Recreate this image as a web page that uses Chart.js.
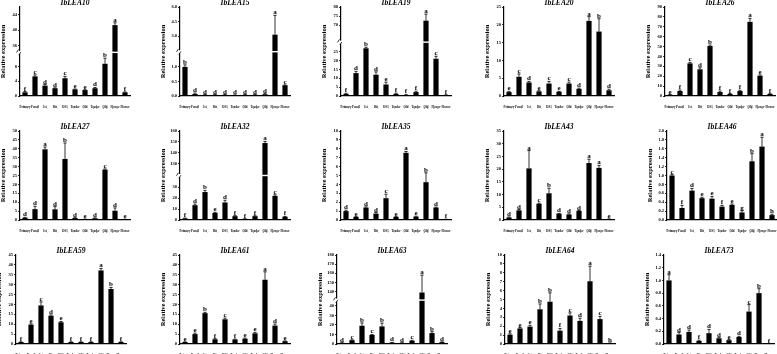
<!DOCTYPE html>
<html><head><meta charset="utf-8">
<script src="https://cdn.jsdelivr.net/npm/chart.js@4/dist/chart.umd.min.js"></script>
<style>
body{margin:0;background:#fff;width:777px;height:354px;overflow:hidden;position:relative}
canvas{position:absolute}
</style></head><body>
<script>
// ---------- data ----------
const categories = [["Primary","root"],["Pencil","root"],["Ist","root"],["Dit","root"],["DS1","root"],["Tender","stem"],["Old","stem"],["Tender","leaf"],["Old","leaf"],["Flower","bud"],"Flower"];

const LEA10 = [1.0, 5.3, 2.8, 2.1, 4.8, 1.8, 1.6, 2.1, 8.7, 41.3, 1.0];
const err10 = [0.2, 0.4, 0.3, 0.1, 0.5, 0.1, 0.1, 0.2, 1.5, 0.6, 0.1];
const sig10 = ["f","c","d","d","c","e","e","d","b","a","f"];
const ticks10 = [0,2,4,6,8,10,36,38,40,42,44,46];

const LEA15 = [1.0, 0.07, 0.04, 0.04, 0.04, 0.03, 0.04, 0.04, 0.06, 3.14, 0.37];
const err15 = [0.07, 0.03, 0.01, 0.01, 0.01, 0.01, 0.01, 0.01, 0.02, 2.0, 0.01];
const sig15 = ["b","d","d","d","d","d","d","d","d","a","c"];
const ticks15 = [0,0.5,1.0,3.0,4.5,6.0];

const LEA19 = [1.2, 12.9, 26.9, 12.0, 6.5, 1.2, 0.6, 2.2, 72.5, 21.0, 0.5];
const err19 = [0.3, 1.0, 0.6, 1.6, 1.3, 0.4, 0.3, 0.5, 3.6, 1.4, 0.2];
const sig19 = ["f","d","b","d","e","f","f","f","a","c","f"];
const ticks19 = [0,5,10,15,20,25,70,75,80];

const LEA20 = [1.1, 5.4, 3.8, 1.3, 3.5, 1.2, 3.5, 2.0, 21.1, 18.1, 1.6];
const err20 = [0.2, 0.8, 0.3, 0.2, 0.6, 0.1, 0.4, 0.2, 1.2, 3.6, 0.3];
const sig20 = ["e","c","d","e","c","e","c","d","a","b","d"];
const ticks20 = [0,5,10,15,20,25];

const LEA26 = [1.2, 5.0, 33.0, 27.0, 50.5, 4.0, 2.0, 5.0, 75.0, 20.5, 2.0];
const err26 = [0.3, 1.0, 1.0, 1.5, 1.0, 1.0, 0.5, 0.8, 3.5, 0.8, 0.4];
const sig26 = ["e","f","c","d","b","f","f","f","a","e","f"];
const ticks26 = [0,10,20,30,40,50,60,70,80,90];

const LEA27 = [1.3, 6.1, 39.7, 6.0, 34.3, 1.1, 0.5, 1.0, 28.3, 5.2, 0.4];
const err27 = [0.2, 1.6, 1.3, 1.5, 9.0, 0.2, 0.1, 0.2, 0.4, 1.6, 0.1];
const sig27 = ["d","d","a","d","b","d","e","d","c","d","e"];
const ticks27 = [0,5,10,15,20,25,30,35,40,45,50];

const LEA32 = [1.5, 13.5, 25.5, 6.5, 16.0, 3.5, 1.0, 3.5, 149.0, 22.0, 3.0];
const err32 = [0.3, 1.0, 1.5, 0.5, 2.0, 0.5, 0.2, 0.4, 1.5, 1.0, 0.3];
const sig32 = ["f","d","b","e","d","f","f","f","a","c","f"];
const ticks32 = [0,10,20,30,130,140,150,160];

const LEA35 = [1.0, 0.35, 1.4, 0.72, 2.45, 0.35, 7.55, 0.38, 4.25, 1.4, 0.08];
const err35 = [0.1, 0.03, 0.08, 0.12, 0.45, 0.03, 0.15, 0.05, 1.05, 0.05, 0.01];
const sig35 = ["d","e","d","d","c","e","a","e","b","d","f"];
const ticks35 = [0,1,2,3,4,5,6,7,8,9,10];

const LEA43 = [1.0, 3.8, 20.3, 6.4, 10.5, 2.5, 2.2, 3.6, 22.4, 20.5, 0.4];
const err43 = [0.2, 0.3, 7.0, 0.2, 2.0, 0.1, 0.2, 0.1, 1.5, 1.0, 0.05];
const sig43 = ["d","d","a","c","b","d","d","d","a","a","e"];
const ticks43 = [0,5,10,15,20,25,30,35];

const LEA46 = [1.0, 0.27, 0.66, 0.49, 0.48, 0.30, 0.34, 0.17, 1.32, 1.65, 0.11];
const err46 = [0.02, 0.06, 0.05, 0.02, 0.05, 0.03, 0.02, 0.04, 0.17, 0.21, 0.02];
const sig46 = ["c","f","d","e","e","f","e","g","b","a","h"];
const ticks46 = [0,0.2,0.4,0.6,0.8,1.0,1.2,1.4,1.6,1.8,2.0];

const LEA59 = [1.0, 9.8, 19.5, 14.3, 11.0, 1.0, 1.0, 1.0, 37.2, 27.8, 1.0];
const err59 = [0.1, 0.4, 1.8, 0.4, 0.4, 0.1, 0.1, 0.1, 1.0, 0.8, 0.1];
const sig59 = ["f","e","c","d","e","f","f","f","a","b","f"];
const ticks59 = [0,5,10,15,20,25,30,35,40,45];

const LEA61 = [1.0, 5.0, 15.6, 2.4, 12.5, 2.3, 2.7, 5.4, 32.5, 9.3, 1.4];
const err61 = [0.1, 0.5, 0.4, 0.3, 0.6, 0.2, 0.3, 0.5, 4.0, 0.8, 0.2];
const sig61 = ["e","e","b","f","c","f","e","e","a","d","e"];
const ticks61 = [0,5,10,15,20,25,30,35,40,45];

const LEA63 = [1.2, 4.0, 19.2, 9.5, 18.5, 1.5, 1.2, 3.5, 139.0, 11.5, 2.0];
const err63 = [0.2, 0.4, 3.0, 0.5, 3.5, 0.2, 0.2, 0.4, 19.0, 1.5, 0.3];
const sig63 = ["d","c","b","c","b","d","d","c","a","b","d"];
const ticks63 = [0,10,20,30,40,140,150,160,170,180];

const LEA64 = [1.05, 1.75, 1.95, 3.9, 4.75, 1.5, 3.2, 2.6, 7.05, 2.8, 0.1];
const err64 = [0.1, 0.1, 0.15, 0.6, 1.0, 0.25, 0.3, 0.3, 1.7, 0.3, 0.02];
const sig64 = ["e","e","e","b","b","f","c","d","a","c","h"];
const ticks64 = [0,1,2,3,4,5,6,7,8,9,10];

const LEA73 = [1.0, 0.15, 0.19, 0.05, 0.17, 0.09, 0.06, 0.11, 0.51, 0.80, 0.005];
const err73 = [0.09, 0.03, 0.03, 0.01, 0.06, 0.01, 0.01, 0.01, 0.11, 0.07, 0.002];
const sig73 = ["a","d","d","f","d","d","e","d","c","b","f"];
const ticks73 = [0,0.2,0.4,0.6,0.8,1.0,1.2,1.4];

// ---------- panels (data refs + axis config) ----------
const panels = [
 {name:"IbLEA10", v:LEA10, e:err10, s:sig10, t:ticks10, dec:0, seg:[{min:0,max:11,from:0,to:0.458},{min:35,max:46,from:0.523,to:1}]},
 {name:"IbLEA15", v:LEA15, e:err15, s:sig15, t:ticks15, dec:1, seg:[{min:0,max:1.4,from:0,to:0.458},{min:1.75,max:6,from:0.538,to:1}]},
 {name:"IbLEA19", v:LEA19, e:err19, s:sig19, t:ticks19, dec:0, seg:[{min:0,max:29,from:0,to:0.578},{min:62,max:80,from:0.632,to:1}]},
 {name:"IbLEA20", v:LEA20, e:err20, s:sig20, t:ticks20, dec:0},
 {name:"IbLEA26", v:LEA26, e:err26, s:sig26, t:ticks26, dec:0},
 {name:"IbLEA27", v:LEA27, e:err27, s:sig27, t:ticks27, dec:0},
 {name:"IbLEA32", v:LEA32, e:err32, s:sig32, t:ticks32, dec:0, seg:[{min:0,max:38,from:0,to:0.468},{min:122,max:160,from:0.532,to:1}]},
 {name:"IbLEA35", v:LEA35, e:err35, s:sig35, t:ticks35, dec:0},
 {name:"IbLEA43", v:LEA43, e:err43, s:sig43, t:ticks43, dec:0},
 {name:"IbLEA46", v:LEA46, e:err46, s:sig46, t:ticks46, dec:1},
 {name:"IbLEA59", v:LEA59, e:err59, s:sig59, t:ticks59, dec:0},
 {name:"IbLEA61", v:LEA61, e:err61, s:sig61, t:ticks61, dec:0},
 {name:"IbLEA63", v:LEA63, e:err63, s:sig63, t:ticks63, dec:0, seg:[{min:0,max:44,from:0,to:0.47},{min:133,max:180,from:0.517,to:1}]},
 {name:"IbLEA64", v:LEA64, e:err64, s:sig64, t:ticks64, dec:0},
 {name:"IbLEA73", v:LEA73, e:err73, s:sig73, t:ticks73, dec:1}
];

// ---------- layout (axis origin x, plot top y) ----------
const axisX = [[20,180,341,504,665],[20,180,341,504,667],[16,180,337,505,664]];
const plotTop = [7, 131, 255.3];
const PLOT_H = 89, PLOT_W = 110, LEFT = 22, TOPPAD = 9, BOTTOM = 13, RIGHTPAD = 3;

// ---------- broken linear scale ----------
class BrokenScale extends Chart.LinearScale {
  _map(v){
    const s = this._segs;
    if(!s) return (v - this.min) / (this.max - this.min);
    const a = s[0], b = s[1];
    if (v <= a.max) return a.from + (v - a.min) / (a.max - a.min) * (a.to - a.from);
    if (v >= b.min) return b.from + (v - b.min) / (b.max - b.min) * (b.to - b.from);
    return a.to + (v - a.max) / (b.min - a.max) * (b.from - a.to);
  }
  _unmap(d){
    const s = this._segs;
    if(!s) return this.min + d * (this.max - this.min);
    const a = s[0], b = s[1];
    if (d <= a.to) return a.min + (d - a.from) / (a.to - a.from) * (a.max - a.min);
    if (d >= b.from) return b.min + (d - b.from) / (b.to - b.from) * (b.max - b.min);
    return a.max + (d - a.to) / (b.from - a.to) * (b.min - a.max);
  }
  getPixelForValue(v){ return this.getPixelForDecimal(this._map(v)); }
  getValueForPixel(p){ return this._unmap(this.getDecimalForPixel(p)); }
}
BrokenScale.id = 'broken';
BrokenScale.defaults = Chart.LinearScale.defaults;
Chart.register(BrokenScale);

const SERIF = '"Liberation Serif", "DejaVu Serif", serif';

function makePlugin(p){
  return {
    id: 'extras',
    afterDatasetsDraw(chart){
      const ctx = chart.ctx, y = chart.scales.y, ca = chart.chartArea;
      const meta = chart.getDatasetMeta(0);
      ctx.save();
      if (p.seg){
        const frac = (p.seg[0].to + p.seg[1].from) / 2;
        const py = y.getPixelForDecimal(frac);
        ctx.fillStyle = '#fff';
        ctx.fillRect(ca.left + 1, py - 0.7, ca.right - ca.left, 1.4);
        ctx.fillRect(ca.left - 1.5, py - 1.5, 3, 3);
        ctx.strokeStyle = '#000'; ctx.lineWidth = 0.8;
        ctx.beginPath();
        ctx.moveTo(ca.left - 3.5, py + 0.2); ctx.lineTo(ca.left - 1.5, py - 2.8);
        ctx.moveTo(ca.left - 1.2, py + 2.8); ctx.lineTo(ca.left + 0.8, py - 0.2);
        ctx.stroke();
      }
      ctx.strokeStyle = '#000'; ctx.lineWidth = 0.8;
      ctx.fillStyle = '#000';
      ctx.font = 'bold 7px ' + SERIF;
      ctx.textAlign = 'center'; ctx.textBaseline = 'alphabetic';
      meta.data.forEach((bar, i) => {
        const top = y.getPixelForValue(p.v[i] + p.e[i]);
        ctx.beginPath();
        ctx.moveTo(bar.x, bar.y); ctx.lineTo(bar.x, top);
        ctx.moveTo(bar.x - 1.6, top); ctx.lineTo(bar.x + 1.6, top);
        ctx.stroke();
        ctx.fillText(p.s[i], bar.x, top - 1);
      });
      ctx.font = 'italic bold 7.5px ' + SERIF;
      ctx.textBaseline = 'middle';
      ctx.fillText(p.name, (ca.left + ca.right) / 2, ca.top - 4);
      ctx.translate(ca.left - 17, (ca.top + ca.bottom) / 2);
      ctx.rotate(-Math.PI / 2);
      ctx.font = 'bold 6.5px ' + SERIF;
      ctx.fillText('Relative expression', 0, 0);
      ctx.restore();
    }
  };
}

panels.forEach((p, idx) => {
  const row = Math.floor(idx / 5), col = idx % 5;
  const ax = axisX[row][col], pt = plotTop[row];
  const cv = document.createElement('canvas');
  const W = LEFT + PLOT_W + RIGHTPAD, H = TOPPAD + PLOT_H + BOTTOM;
  cv.width = W; cv.height = H;
  cv.style.left = (ax - LEFT) + 'px';
  cv.style.top = (pt - TOPPAD) + 'px';
  cv.style.width = W + 'px'; cv.style.height = H + 'px';
  document.body.appendChild(cv);
  const maxV = p.t[p.t.length - 1];
  new Chart(cv, {
    type: 'bar',
    data: { labels: categories, datasets: [{ data: p.v, backgroundColor: '#000', borderWidth: 0, barPercentage: 0.52, categoryPercentage: 1 }] },
    options: {
      responsive: false, animation: false, events: [], devicePixelRatio: 1,
      layout: { padding: { top: TOPPAD, left: 0, right: RIGHTPAD, bottom: 0 } },
      plugins: { legend: { display: false }, tooltip: { enabled: false }, title: { display: false } },
      scales: {
        x: {
          grid: { display: false },
          border: { display: true, color: '#000', width: 1.2 },
          ticks: { font: { family: SERIF, size: 3, weight: 'bold', lineHeight: 1.0 }, color: '#000', autoSkip: false, maxRotation: 0, minRotation: 0, padding: 2 },
          afterFit: s => { s.height = BOTTOM; }
        },
        y: {
          type: 'broken', min: 0, max: maxV,
          grid: { display: true, drawOnChartArea: false, drawTicks: true, tickLength: 2, color: '#000', lineWidth: 0.8 },
          border: { display: true, color: '#000', width: 1.2 },
          ticks: { font: { family: SERIF, size: 4.5, weight: 'bold' }, color: '#000', padding: 1, callback: v => Number(v).toFixed(p.dec) },
          afterDataLimits: s => { s._segs = p.seg || null; s.min = 0; s.max = maxV; },
          afterBuildTicks: s => { s.ticks = p.t.map(v => ({ value: v })); },
          afterFit: s => { s.width = LEFT; }
        }
      }
    },
    plugins: [makePlugin(p)]
  });
});
</script>
</body></html>
